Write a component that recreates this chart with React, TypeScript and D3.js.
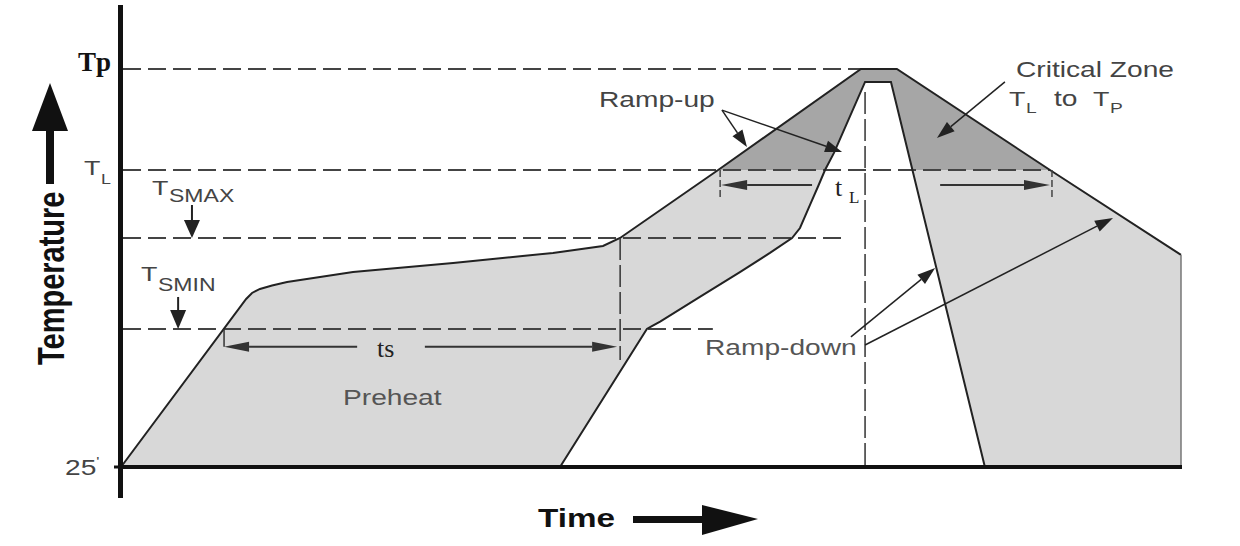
import React from 'react';
import * as d3 from 'd3';

// temperature levels: 25°, TSMIN, TSMAX, TL, TP
const LEVEL_NAMES = ['25', 'TSMIN', 'TSMAX', 'TL', 'TP'];
const LEVEL_TEMPS = [25, 150, 200, 217, 260];

// upper (outer) edge of the profile window
const OUTER_TIME = [0, 42.5, 44.5, 47.2, 51.3, 56.4, 78.8, 112.8, 146.7, 163.7, 169.5, 202.8, 251.3, 263.5, 315.5, 360];
const OUTER_TEMP = [25, 166.5, 169.8, 172.0, 173.9, 175.8, 181.3, 186.3, 191.8, 195.6, 200, 217, 260, 260, 217, 190.7];

// lower (inner) edge of the profile window
const INNER_TIME = [149.1, 178.6, 180.3, 183.1, 196.6, 210.2, 220.4, 227.9, 230.6, 234.0, 236.8, 239.1, 242.1, 252.7, 261.5, 293.4];
const INNER_TEMP = [25, 150, 151.6, 154.1, 167.6, 181.3, 191.8, 200, 202.5, 208.3, 213, 217, 224.2, 254.5, 254.5, 25];

const TIME_END = 360;
const SOAK_WINDOW = [35, 168.5];
const LIQUIDUS_WINDOW = [202.8, 315.5];
const PEAK_TIME = 252.7;
// where each dashed level line stops
const LEVEL_LINE_END = [0, 201, 245.2, 315.5, 251.3];

const W = 1240;
const H = 546;
const SX = 1.28; // the source art is stretched sideways

const x = d3.scaleLinear().domain([0, TIME_END]).range([121, 1181]);
const y = d3.scaleLinear().domain(LEVEL_TEMPS).range([467, 329, 238, 170, 69]);

const SANS = 'Liberation Sans, Arial, Helvetica, sans-serif';
const SERIF = 'Liberation Serif, Times New Roman, serif';

type Pt = [number, number];
const outer: Pt[] = OUTER_TIME.map((t, i) => [t, OUTER_TEMP[i]]);
const inner: Pt[] = INNER_TIME.map((t, i) => [t, INNER_TEMP[i]]);

const line = d3.line<Pt>().x(d => x(d[0])).y(d => y(d[1]));
const band = line([...outer, [TIME_END, 25], ...[...inner].reverse()]) + 'Z';

function Arrow({ x1, y1, x2, y2, len = 16, half = 5, sw = 1.5, color = '#222' }: any) {
  const a = Math.atan2(y2 - y1, x2 - x1);
  const bx = x2 - len * Math.cos(a);
  const by = y2 - len * Math.sin(a);
  const px = -Math.sin(a) * half;
  const py = Math.cos(a) * half;
  return (
    <g>
      <line x1={x1} y1={y1} x2={bx} y2={by} stroke={color} strokeWidth={sw} />
      <polygon points={`${x2},${y2} ${bx + px},${by + py} ${bx - px},${by - py}`} fill={color} />
    </g>
  );
}

function SText({ x: tx, y: ty, size = 22, weight = 'normal', fill = '#444', children }: any) {
  return (
    <text transform={`translate(${tx},${ty}) scale(${SX},1)`} fontFamily={SANS} fontSize={size} fontWeight={weight} fill={fill}>
      {children}
    </text>
  );
}

export default function App() {
  const dash = { stroke: '#444', strokeWidth: 2, strokeDasharray: '18 7', fill: 'none' };
  const vdash = { stroke: '#333', strokeWidth: 1.5, strokeDasharray: '22 5', fill: 'none' };
  const tsY = y(134);
  const tlY = y(213.25);

  return (
    <svg width={W} height={H} style={{ position: 'absolute', left: 0, top: 0, display: 'block', background: '#fff' }}>
      <defs>
        <clipPath id="critical">
          <rect x={0} y={0} width={W} height={y(217)} />
        </clipPath>
      </defs>

      {/* profile window */}
      <path d={band} fill="#d8d8d8" />
      <path d={band} fill="#a6a6a6" clipPath="url(#critical)" />

      {/* level lines */}
      {LEVEL_TEMPS.map((T, i) =>
        i === 0 ? null : (
          <line key={LEVEL_NAMES[i]} x1={x(0) + 2} x2={x(LEVEL_LINE_END[i])} y1={y(T)} y2={y(T)} {...dash} />
        )
      )}

      {/* profile edges */}
      <path d={line(outer) || ''} fill="none" stroke="#222" strokeWidth={2} />
      <path d={line(inner) || ''} fill="none" stroke="#222" strokeWidth={2} />
      <line x1={x(TIME_END)} x2={x(TIME_END)} y1={y(OUTER_TEMP[OUTER_TEMP.length - 1])} y2={y(25)} stroke="#777" strokeWidth={1.5} />

      {/* verticals */}
      <line x1={x(SOAK_WINDOW[1]) + 3} x2={x(SOAK_WINDOW[1]) + 3} y1={y(200)} y2={y(122)} {...vdash} />
      <line x1={x(PEAK_TIME)} x2={x(PEAK_TIME)} y1={y(250.2)} y2={y(25)} {...vdash} />

      {/* ts */}
      <line x1={x(SOAK_WINDOW[0])} x2={x(SOAK_WINDOW[0])} y1={y(150)} y2={tsY} stroke="#333" strokeWidth={1.5} />
      <Arrow x1={x(80.2)} y1={tsY} x2={x(SOAK_WINDOW[0])} y2={tsY} len={25} half={5} sw={2} color="#333" />
      <Arrow x1={x(103.2)} y1={tsY} x2={x(SOAK_WINDOW[1])} y2={tsY} len={25} half={5} sw={2} color="#333" />
      <text x={377} y={357} fontFamily={SERIF} fontSize={26} fill="#222">ts</text>

      {/* tL */}
      {LIQUIDUS_WINDOW.map(t => (
        <line key={t} x1={x(t) + 2} x2={x(t) + 2} y1={y(217)} y2={y(210)} stroke="#444" strokeWidth={1.5} strokeDasharray="7 3" />
      ))}
      <Arrow x1={x(234.7)} y1={tlY} x2={x(LIQUIDUS_WINDOW[0]) + 3} y2={tlY} len={26} half={5} sw={2} color="#333" />
      <Arrow x1={x(278.2)} y1={tlY} x2={x(LIQUIDUS_WINDOW[1])} y2={tlY} len={26} half={5} sw={2} color="#333" />
      <text x={835} y={196} fontFamily={SERIF} fontSize={26} fill="#222">t</text>
      <text x={849} y={203} fontFamily={SERIF} fontSize={17} fill="#222">L</text>

      {/* axes */}
      <line x1={120.5} x2={120.5} y1={5} y2={498} stroke="#111" strokeWidth={5} />
      <line x1={118} x2={1182} y1={y(25)} y2={y(25)} stroke="#111" strokeWidth={4} />
      <line x1={114} x2={121} y1={y(25)} y2={y(25)} stroke="#111" strokeWidth={3} />

      {/* level labels */}
      <text x={78} y={71} fontFamily={SERIF} fontSize={27} fontWeight="bold" fill="#111">Tp</text>
      <SText x={84} y={175} size={21}>T</SText>
      <SText x={101} y={184} size={14}>L</SText>
      <SText x={152} y={195} size={21}>T</SText>
      <SText x={169} y={202} size={18}>SMAX</SText>
      <Arrow x1={x(24.1)} y1={y(208.25)} x2={x(24.1)} y2={y(200)} len={18} half={8} sw={2} color="#222" />
      <SText x={141} y={281} size={21}>T</SText>
      <SText x={158} y={291} size={18}>SMIN</SText>
      <Arrow x1={x(19.4)} y1={y(167.6)} x2={x(19.4)} y2={y(150)} len={19} half={8} sw={2} color="#222" />
      <text transform={`translate(65,475) scale(${SX},1)`} fontFamily={SANS} fontSize={22} fill="#444">
        25<tspan fontSize={13} dy={-9}>'</tspan>
      </text>

      {/* call-outs */}
      <SText x={343} y={405} fill="#555">Preheat</SText>
      <SText x={599} y={107}>Ramp-up</SText>
      <Arrow x1={x(204.1)} y1={y(242.5)} x2={x(212.6)} y2={y(226.8)} len={17} half={6} />
      <Arrow x1={x(204.1)} y1={y(242.5)} x2={x(244.9)} y2={y(224.7)} len={17} half={6} />
      <SText x={1016} y={77}>Critical Zone</SText>
      <SText x={1009} y={106} size={21}>T</SText>
      <SText x={1026} y={113} size={15}>L</SText>
      <SText x={1054} y={106}>to</SText>
      <SText x={1093} y={106} size={21}>T</SText>
      <SText x={1110} y={113} size={15}>P</SText>
      <Arrow x1={x(300.2)} y1={y(254.5)} x2={x(277.1)} y2={y(230.6)} len={18} half={6} />
      <SText x={705} y={355} fill="#555">Ramp-down</SText>
      <Arrow x1={x(247.9)} y1={y(142.8)} x2={x(276.5)} y2={y(183.5)} len={18} half={6} />
      <Arrow x1={x(252.7)} y1={y(135.5)} x2={x(336.9)} y2={y(205)} len={18} half={6} />

      {/* axis titles */}
      <SText x={538} y={527} size={26} weight="bold" fill="#111">Time</SText>
      <rect x={633} y={516} width={70} height={7} fill="#111" />
      <polygon points="702,505 758,519 702,535" fill="#111" />
      <text transform={`translate(63.5,365) scale(${SX},1) rotate(-90)`} fontFamily={SANS} fontSize={29} fontWeight="bold" fill="#111">
        Temperature
      </text>
      <rect x={46} y={129} width={8} height={55} fill="#111" />
      <polygon points="50,83 32,131 68,131" fill="#111" />
    </svg>
  );
}
